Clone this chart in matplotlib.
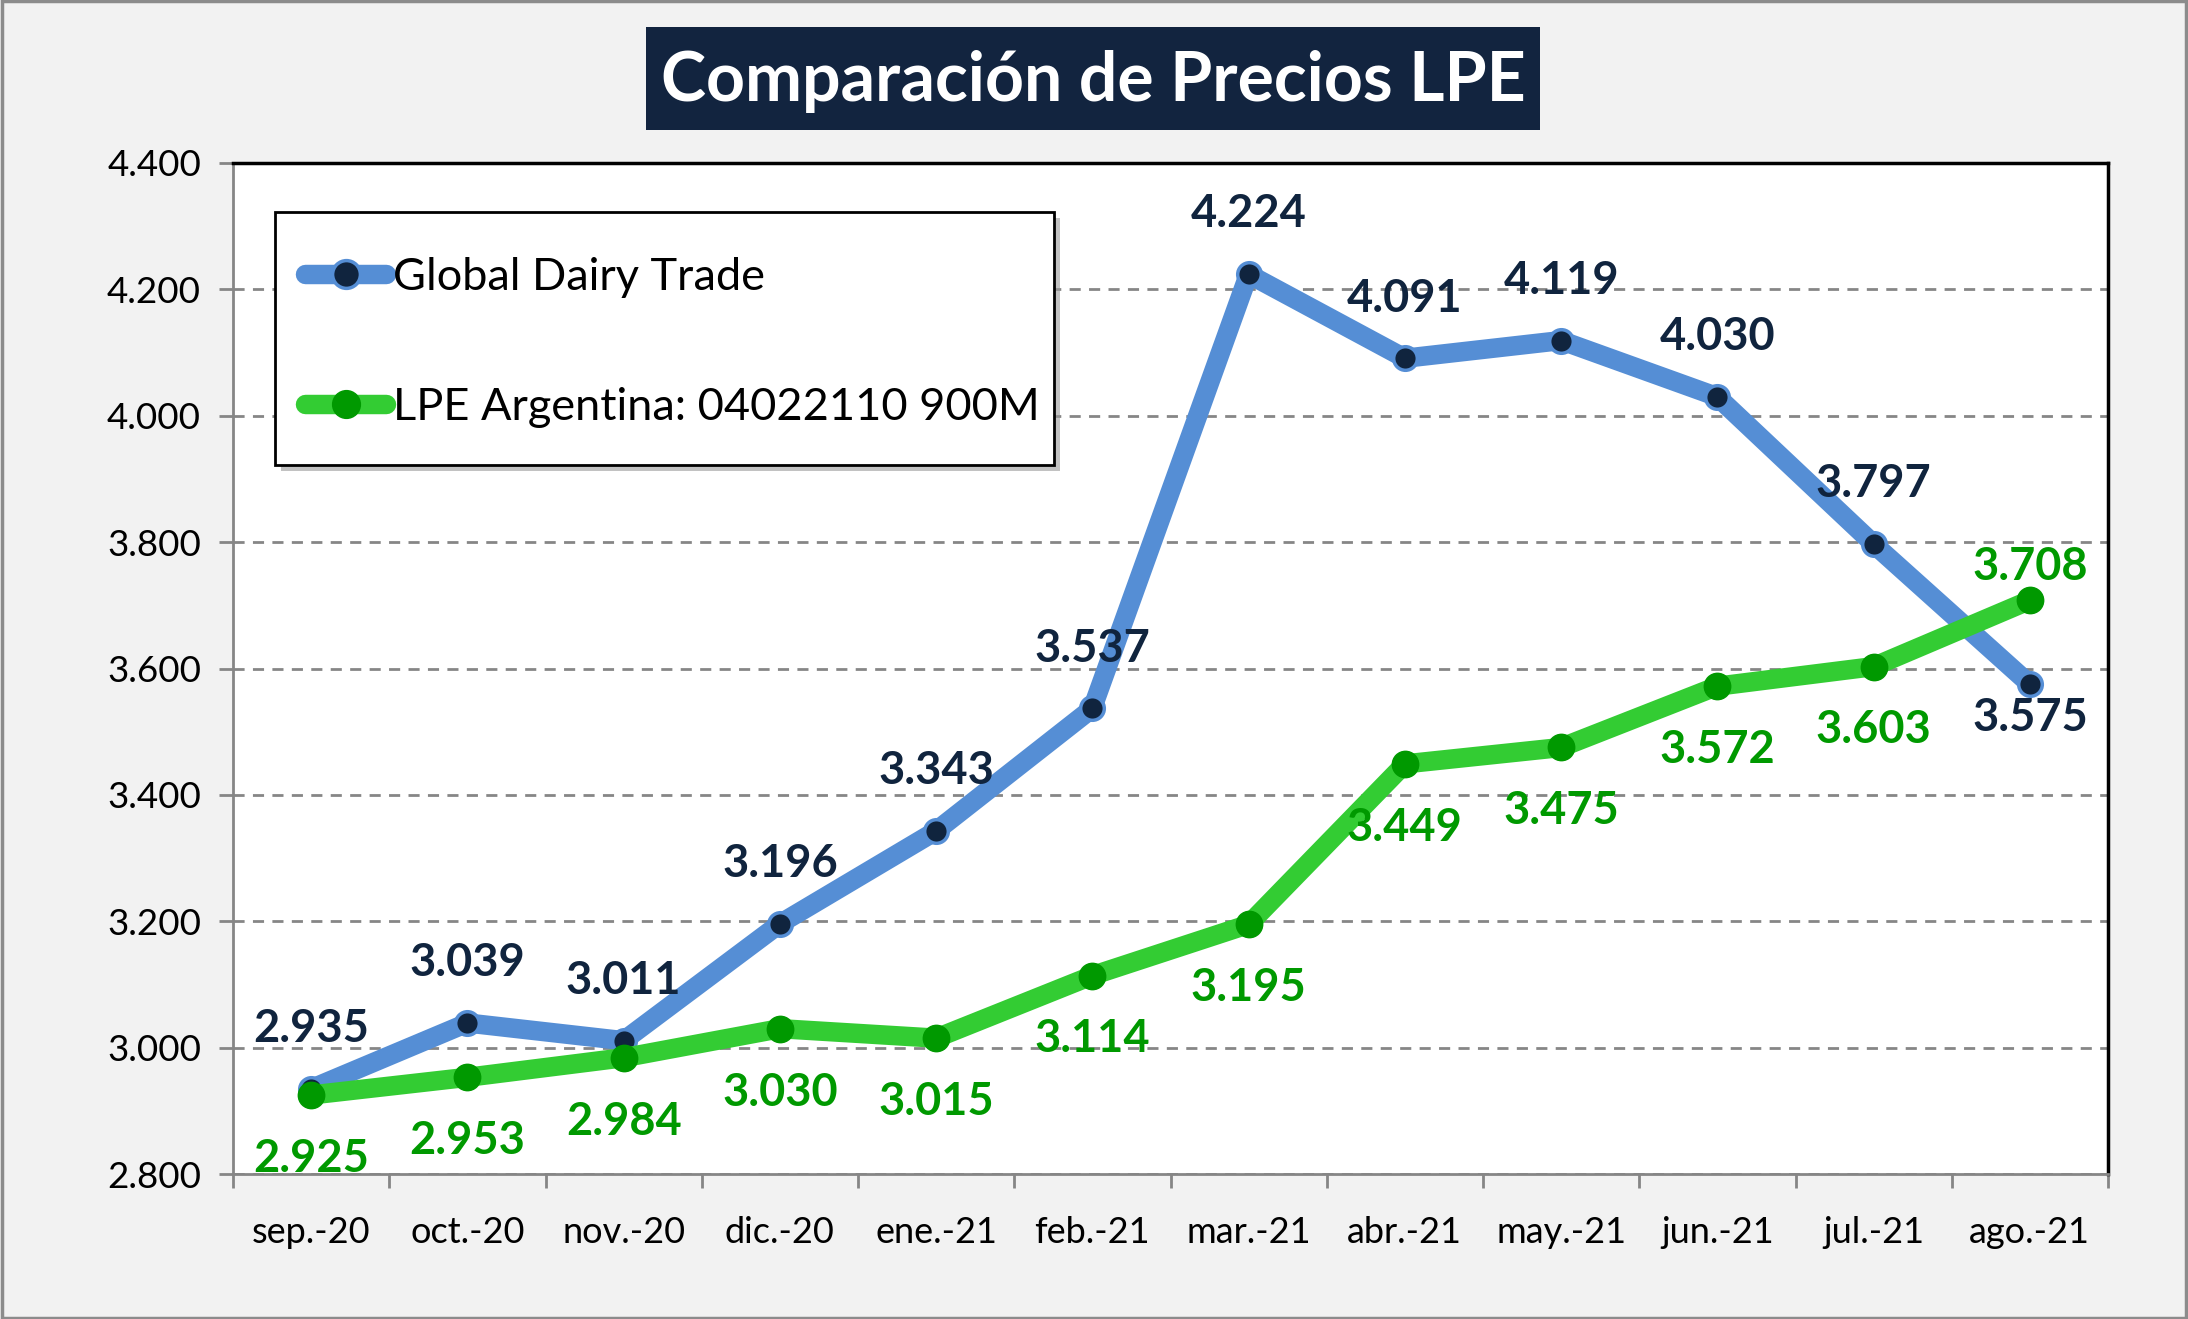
import matplotlib
matplotlib.use("Agg")
import matplotlib.pyplot as plt
from matplotlib.patches import Rectangle
from matplotlib.ticker import FuncFormatter, FixedLocator

months = ["sep.-20", "oct.-20", "nov.-20", "dic.-20", "ene.-21", "feb.-21",
          "mar.-21", "abr.-21", "may.-21", "jun.-21", "jul.-21", "ago.-21"]
gdt = [2935, 3039, 3011, 3196, 3343, 3537, 4224, 4091, 4119, 4030, 3797, 3575]
lpe = [2925, 2953, 2984, 3030, 3015, 3114, 3195, 3449, 3475, 3572, 3603, 3708]
gdt_label_pos = ["above"] * 11 + ["below"]
lpe_label_pos = ["below"] * 11 + ["above"]
series_names = ["Global Dairy Trade", "LPE Argentina: 04022110 900M"]
title = "Comparación de Precios LPE"
yticks = [2800, 3000, 3200, 3400, 3600, 3800, 4000, 4200, 4400]

FONT = "Lato"
plt.rcParams["font.family"] = [FONT, "DejaVu Sans"]

W, H, DPI = 2188, 1319, 100
fig = plt.figure(figsize=(W / DPI, H / DPI), dpi=DPI, facecolor="#F2F2F2")

# outer border
fig.patches.append(Rectangle((0.0007, 0.001), 0.9986, 0.998, transform=fig.transFigure,
                             fill=False, edgecolor="#8C8C8C", linewidth=2.5))

left, right, top, bottom = 233 / W, 2108 / W, 1 - 163 / H, 1 - 1174 / H
ax = fig.add_axes([left, bottom, right - left, top - bottom])
ax.set_facecolor("white")

x = list(range(len(months)))
blue, navy = "#558ED5", "#10243E"
green, dgreen = "#33CC33", "#009900"

ax.plot(x, gdt, color=blue, lw=14, solid_capstyle="round", solid_joinstyle="round",
        marker="o", markersize=17, markerfacecolor=navy, markeredgecolor=blue,
        markeredgewidth=2.5, label=series_names[0], zorder=3)
ax.plot(x, lpe, color=green, lw=14, solid_capstyle="round", solid_joinstyle="round",
        marker="o", markersize=19, markerfacecolor=dgreen, markeredgecolor=dgreen,
        markeredgewidth=1, label=series_names[1], zorder=4)

fmt = lambda v: f"{v:,.0f}".replace(",", ".")

def offset(pos, series):
    if series == "gdt":
        return 43 if pos == "above" else -24
    return -46 if pos == "below" else 24

for xi, v, p in zip(x, gdt, gdt_label_pos):
    ax.annotate(fmt(v), (xi, v), xytext=(0, offset(p, "gdt")), textcoords="offset points",
                ha="center", va="center", fontsize=32.5, fontweight="bold", color=navy, zorder=6)
for xi, v, p in zip(x, lpe, lpe_label_pos):
    ax.annotate(fmt(v), (xi, v), xytext=(0, offset(p, "lpe")), textcoords="offset points",
                ha="center", va="center", fontsize=32.5, fontweight="bold", color=dgreen, zorder=6)

ax.set_xlim(-0.5, len(months) - 0.5)
ax.set_ylim(yticks[0], yticks[-1])
ax.yaxis.set_major_locator(FixedLocator(yticks))
ax.yaxis.set_major_formatter(FuncFormatter(lambda v, _: fmt(v)))
ax.xaxis.set_major_locator(FixedLocator([i - 0.5 for i in range(len(months) + 1)]))
ax.xaxis.set_major_formatter(FuncFormatter(lambda v, _: ""))
ax.xaxis.set_minor_locator(FixedLocator(x))
ax.set_xticklabels(months, minor=True)

grey = "#868686"
ax.tick_params(axis="x", which="major", direction="out", length=10, width=2, color=grey)
ax.tick_params(axis="x", which="minor", length=0, pad=30, labelsize=26, labelcolor="black")
ax.tick_params(axis="y", which="major", direction="out", length=10, width=2, color=grey,
               pad=13, labelsize=26.5, labelcolor="black")

ax.grid(axis="y", color=grey, linestyle=(0, (4, 3)), linewidth=2, zorder=0)
ax.set_axisbelow(True)

for s in ["top", "right"]:
    ax.spines[s].set_color("black")
    ax.spines[s].set_linewidth(2.5)
for s in ["left", "bottom"]:
    ax.spines[s].set_color(grey)
    ax.spines[s].set_linewidth(2)

# legend box (drawn separately, inside the axes) with shadow
lx0, lx1, ly0, ly1 = 275 / W, 1054 / W, 1 - 465 / H, 1 - 212 / H
sh = 6 / W, 6 / H
ax.add_patch(Rectangle((lx0 + sh[0], ly0 - sh[1]), lx1 - lx0, ly1 - ly0,
                       transform=fig.transFigure, facecolor="#9A9A9A", clip_on=False,
                       edgecolor="none", alpha=0.6, zorder=7))
ax.add_patch(Rectangle((lx0, ly0), lx1 - lx0, ly1 - ly0, transform=fig.transFigure,
                       facecolor="white", edgecolor="black", linewidth=2, clip_on=False,
                       zorder=8))

leg = ax.legend(loc="upper left", bbox_to_anchor=(305 / W, 1 - 257 / H),
                bbox_transform=fig.transFigure, fontsize=32.5, frameon=False,
                borderpad=0, labelspacing=1.97, handlelength=1.8,
                handletextpad=0.15, borderaxespad=0)
leg.set_zorder(10)
for h in leg.legend_handles:
    h.set_markersize(20)

# title box
tx0, tx1, ty0, ty1 = 646 / W, 1540 / W, 1 - 130 / H, 1 - 27 / H
fig.patches.append(Rectangle((tx0, ty0), tx1 - tx0, ty1 - ty0, transform=fig.transFigure,
                             facecolor="#12243F", edgecolor="none"))
fig.text((tx0 + tx1) / 2, (ty0 + ty1) / 2 - 0.002, title, ha="center", va="center",
         fontsize=49, fontweight="bold", color="white")

fig.savefig("out.png", dpi=DPI, facecolor=fig.get_facecolor())
